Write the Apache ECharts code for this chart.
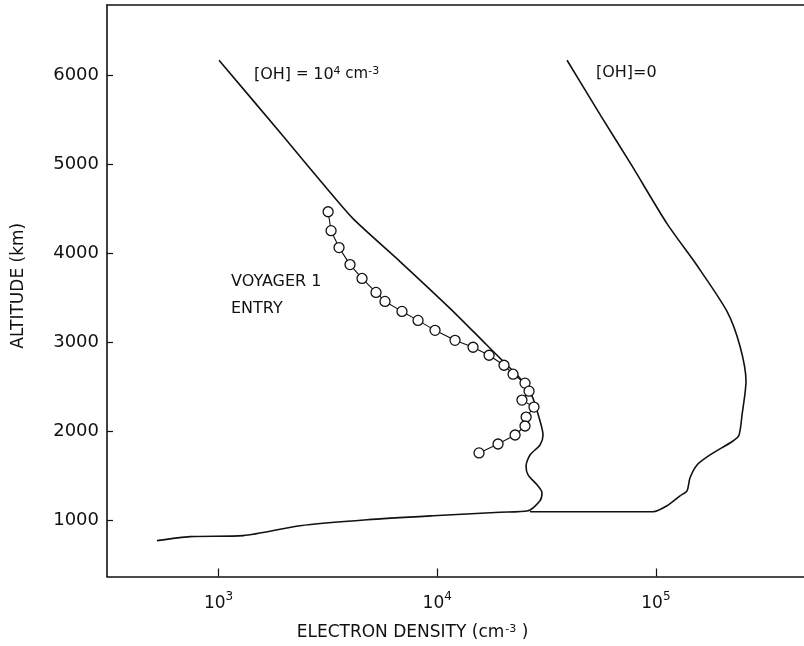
<!DOCTYPE html>
<html>
<head>
<meta charset="utf-8">
<script src="https://cdn.jsdelivr.net/npm/echarts@6/dist/echarts.min.js"></script>
<style>
  html, body { margin: 0; padding: 0; background: #fff; }
  #chart { width: 804px; height: 646px; }
</style>
</head>
<body>
<div id="chart"></div>
<script>
// electron density (cm^-3) vs altitude (km)

// model curve, [OH] = 1e4 cm^-3
var ohHighDensity = [1005, 1972, 3135, 4121, 6761, 11440, 16900, 20420, 23900, 27140, 28900, 30470, 29510,
  26570, 25470, 26020, 28600, 30140, 29510, 26020, 19370, 9570, 4776, 2359, 1295, 741, 523];
var ohHighAlt = [6174, 5323, 4730, 4394, 3912, 3386, 2971, 2770, 2602, 2400, 2198, 1963, 1851,
  1739, 1616, 1515, 1403, 1314, 1224, 1112, 1095, 1056, 1011, 944, 832, 821, 776];

// model curve, [OH] = 0
var ohZeroDensity = [39230, 56100, 77760, 112400, 154200, 211400, 242400, 258200, 247600, 239900, 225100,
  176800, 154200, 143200, 138750, 128900, 112400, 97000, 55520, 26570];
var ohZeroAlt = [6174, 5547, 4987, 4338, 3867, 3352, 2960, 2568, 2187, 1963, 1896,
  1739, 1627, 1482, 1336, 1280, 1168, 1101, 1101, 1101];

// Voyager 1 entry measurements
var voyDensity = [3170, 3270, 3556, 3992, 4530, 5250, 5770, 6900, 8170, 9770, 12060, 14580,
  17260, 20200, 22220, 25200, 26300, 24400, 27700, 25500, 25200, 22700, 18970, 15530];
var voyAlt = [4472, 4259, 4069, 3878, 3722, 3565, 3464, 3352, 3251, 3139, 3027, 2949,
  2859, 2747, 2646, 2546, 2456, 2355, 2277, 2165, 2064, 1963, 1862, 1762];

var xTicks = [1000, 10000, 100000];
var yTicks = [1000, 2000, 3000, 4000, 5000, 6000];

function pairs(xs, ys) {
  return xs.map(function (x, i) { return [x, ys[i]]; });
}

var FONT = 'DejaVu Sans';
var chart = echarts.init(document.getElementById('chart'));

var option = {
  animation: false,
  backgroundColor: '#fff',
  textStyle: { fontFamily: FONT, color: '#111' },
  grid: { left: 107, right: 0, top: 5, bottom: 67 },
  xAxis: [{
    type: 'log',
    min: 309,
    max: 475500,
    name: 'ELECTRON DENSITY (cm{s|-3}{n| )}',
    nameLocation: 'middle',
    nameGap: 47,
    nameTextStyle: {
      fontFamily: FONT, fontSize: 17, color: '#111', padding: [0, 86, 0, 0],
      rich: {
        s: { fontFamily: FONT, fontSize: 11, verticalAlign: 'top', padding: [0, 0, 7, 1] },
        n: { fontFamily: FONT, fontSize: 17 }
      }
    },
    axisLine: { lineStyle: { color: '#111', width: 1.6 } },
    axisTick: { inside: true, length: 8, lineStyle: { color: '#111', width: 1.2 }, customValues: xTicks },
    splitLine: { show: false },
    minorTick: { show: false },
    axisLabel: {
      customValues: xTicks,
      margin: 14,
      formatter: function (v) {
        return '{b|10}{s|' + Math.round(Math.log10(v)) + '}';
      },
      rich: {
        b: { fontFamily: FONT, fontSize: 17, color: '#111', verticalAlign: 'bottom', lineHeight: 22 },
        s: { fontFamily: FONT, fontSize: 12, color: '#111', verticalAlign: 'top', lineHeight: 22 }
      }
    }
  }, {
    type: 'log',
    position: 'top',
    min: 309,
    max: 475500,
    axisLine: { show: true, lineStyle: { color: '#111', width: 1.5 } },
    axisTick: { show: false },
    axisLabel: { show: false },
    splitLine: { show: false }
  }],
  yAxis: {
    type: 'value',
    min: 373,
    max: 6795,
    name: 'ALTITUDE (km)',
    nameLocation: 'middle',
    nameRotate: 90,
    nameGap: 80,
    nameTextStyle: { fontFamily: FONT, fontSize: 17, color: '#111', padding: [0, 0, 0, 10] },
    axisLine: { show: true, lineStyle: { color: '#111', width: 1.6 } },
    axisTick: { show: true, inside: true, length: 6, lineStyle: { color: '#111', width: 1.2 }, customValues: yTicks },
    splitLine: { show: false },
    axisLabel: {
      customValues: yTicks, margin: 8, fontFamily: FONT, fontSize: 18, color: '#111',
      formatter: function (v) { return String(v); }
    }
  },
  series: [{
    name: '[OH]=1e4',
    type: 'line',
    data: pairs(ohHighDensity, ohHighAlt),
    showSymbol: false,
    smooth: 0.25,
    lineStyle: { color: '#111', width: 1.6 },
    z: 2
  }, {
    name: '[OH]=0',
    type: 'line',
    data: pairs(ohZeroDensity, ohZeroAlt),
    showSymbol: false,
    smooth: 0.25,
    lineStyle: { color: '#111', width: 1.6 },
    z: 2
  }, {
    name: 'Voyager 1 entry',
    type: 'line',
    data: pairs(voyDensity, voyAlt),
    symbol: 'circle',
    symbolSize: 10,
    showSymbol: true,
    lineStyle: { color: '#111', width: 1.1 },
    itemStyle: { color: '#fff', borderColor: '#111', borderWidth: 1.3 },
    z: 3
  }],
  graphic: [{
    type: 'text', left: 254, top: 66,
    style: {
      text: '[OH]{e| = }10{s|4}{e| cm}{s|-3}',
      fontFamily: FONT, fontSize: 16, fill: '#111',
      rich: {
        e: { fontFamily: FONT, fontSize: 15, fill: '#111' },
        s: { fontFamily: FONT, fontSize: 11, fill: '#111', verticalAlign: 'top', padding: [0, 0, 6, 0] }
      }
    }
  }, {
    type: 'text', left: 596, top: 65,
    style: { text: '[OH]=0', fontFamily: FONT, fontSize: 16, fill: '#111' }
  }, {
    type: 'text', left: 231, top: 268,
    style: { text: 'VOYAGER 1\nENTRY', fontFamily: FONT, fontSize: 16, lineHeight: 27, fill: '#111' }
  }]
};

chart.setOption(option);
</script>
</body>
</html>
